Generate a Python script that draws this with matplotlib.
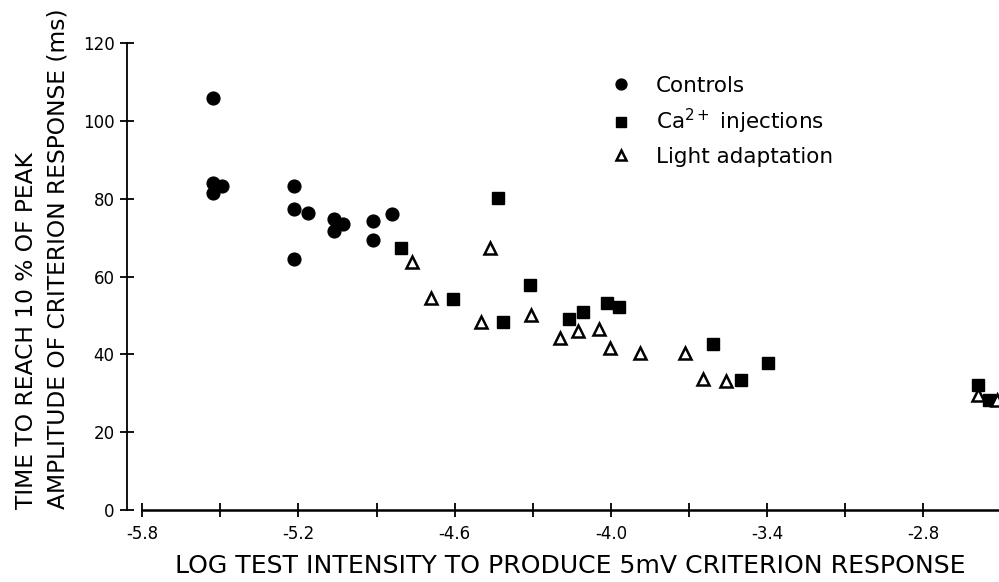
import matplotlib
matplotlib.use("Agg")
import matplotlib.pyplot as plt

plt.rcParams['font.family'] = ['DejaVu Sans']

# Controls (filled circles)
ctrl_x = [-5.527, -5.527, -5.494, -5.527, -5.217, -5.217, -5.162, -5.217,
          -5.064, -5.030, -5.064, -4.915, -4.913, -4.840]
ctrl_y = [105.8, 83.9, 83.2, 81.4, 83.3, 77.3, 76.4, 64.5,
          74.7, 73.5, 71.8, 74.2, 69.4, 76.0]

# Ca2+ injections (filled squares)
ca_x = [-4.806, -4.608, -4.433, -4.414, -4.309, -4.161, -4.107, -4.014,
        -3.969, -3.608, -3.395, -3.502, -2.590, -2.547]
ca_y = [67.4, 54.3, 80.2, 48.4, 57.8, 49.1, 50.8, 53.1,
        52.2, 42.6, 37.7, 33.4, 32.1, 28.3]

# Light adaptation (open triangles)
la_x = [-4.765, -4.689, -4.465, -4.500, -4.305, -4.197, -4.126, -4.046,
        -4.002, -3.887, -3.714, -3.647, -3.557, -2.592, -2.517]
la_y = [63.8, 54.6, 67.4, 48.2, 50.1, 44.3, 46.0, 46.4,
        41.7, 40.4, 40.4, 33.6, 33.1, 29.5, 28.3]

xticks = [-5.8, -5.5, -5.2, -4.9, -4.6, -4.3, -4.0, -3.7, -3.4, -3.1, -2.8]
xticklabels = ['-5.8', '', '-5.2', '', '-4.6', '', '-4.0', '', '-3.4', '', '-2.8']
yticks = [0, 20, 40, 60, 80, 100, 120]

fig = plt.figure(figsize=(9.99, 5.82), dpi=100)
ax = fig.add_axes([127/999, 72/582, 872/999, 467/582])

ax.plot(ctrl_x, ctrl_y, 'o', color='black', markersize=9.2, linestyle='none',
        label='Controls', clip_on=False)
ax.plot(ca_x, ca_y, 's', color='black', markersize=8.2, linestyle='none',
        label='Ca$^{2+}$ injections')
ax.plot(la_x, la_y, '^', markerfacecolor='white', markeredgecolor='black',
        markeredgewidth=1.8, markersize=8, linestyle='none',
        label='Light adaptation')

ax.set_xlim(-5.858, -2.51)
ax.set_ylim(0, 120)

for s in ['top', 'right']:
    ax.spines[s].set_visible(False)
ax.spines['bottom'].set_bounds(-5.8, -2.51)
ax.spines['left'].set_linewidth(1.3)
ax.spines['bottom'].set_linewidth(1.8)

ax.set_xticks(xticks)
ax.set_xticklabels(xticklabels)
ax.set_yticks(yticks)
ax.tick_params(axis='both', direction='inout', length=10, width=1.3,
               labelsize=12)
ax.tick_params(axis='x', pad=6)
ax.tick_params(axis='y', pad=4)

ax.set_xlabel('LOG TEST INTENSITY TO PRODUCE 5mV CRITERION RESPONSE',
              fontsize=18.1, labelpad=8)
ax.xaxis.label.set_x(0.508)
ax.set_ylabel('TIME TO REACH 10 % OF PEAK\nAMPLITUDE OF CRITERION RESPONSE (ms)',
              fontsize=16.8, linespacing=1.5, multialignment='left')
ax.yaxis.set_label_coords(-0.0655, 0.5385)

leg = ax.legend(loc='upper left', bbox_to_anchor=(0.53, 0.971), frameon=False,
                fontsize=15.5, handletextpad=1.0, labelspacing=0.5,
                markerscale=0.85, handlelength=1.2)

fig.savefig('out.png', dpi=100)
